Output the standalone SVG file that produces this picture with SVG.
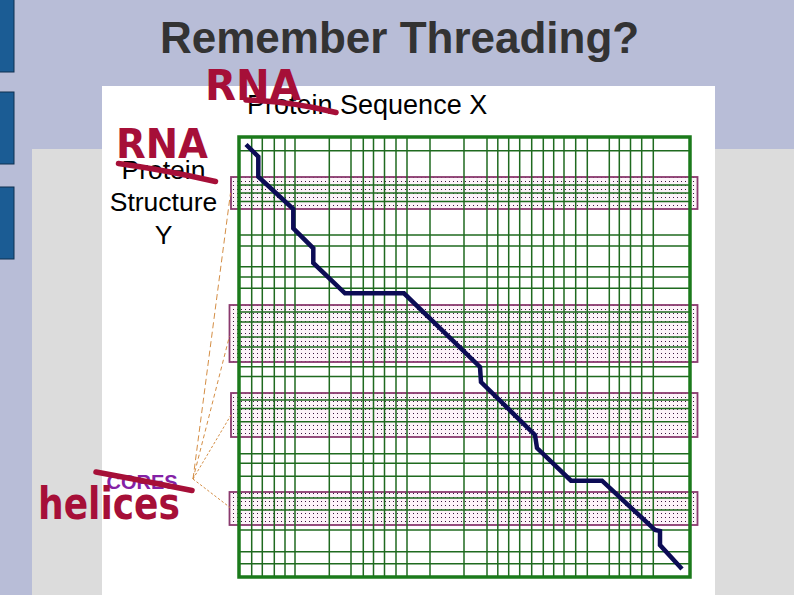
<svg xmlns="http://www.w3.org/2000/svg" width="794" height="595" viewBox="0 0 794 595">
<style>
.bar{fill:#1b5c94;stroke:#0e3050;stroke-width:1}
.grid line{stroke:#1f6a1f;stroke-width:1.5}
.border{fill:none;stroke:#1b7a1b;stroke-width:3.5}
.core{fill:url(#dots);stroke:#8a3a6e;stroke-width:1.8}
.conn{stroke:#d48e45;stroke-width:1;fill:none}
.hand{fill:#a60f38;font-family:"DejaVu Sans",sans-serif;font-weight:bold}
.strike{stroke:#a60f38;stroke-width:5.5;stroke-linecap:round;fill:none}
.lbl{font-family:"Liberation Sans",Arial,sans-serif;fill:#000}
</style>
<defs>
<pattern id="dots" width="4" height="4" patternUnits="userSpaceOnUse">
<rect width="4" height="4" fill="#fdf3f9"/>
<rect x="1" y="1" width="1" height="1" fill="#3a1840"/>
</pattern>
</defs>
<rect width="794" height="595" fill="#b8bdd7"/>
<rect class="bar" x="-1" y="-1" width="15" height="73"/>
<rect class="bar" x="-1" y="92" width="15" height="72"/>
<rect class="bar" x="-1" y="187" width="15" height="72"/>
<rect x="32" y="149" width="762" height="446" fill="#dcdcdc"/>
<rect x="102" y="86" width="613" height="509" fill="#ffffff"/>
<g id="title"><text class="lbl" x="160" y="53" font-size="44" font-weight="bold" style="fill:#333">Remember Threading?</text></g>
<g id="core1"><rect class="core" x="231" y="177" width="466.5" height="32"/></g>
<g id="core2"><rect class="core" x="229.5" y="305" width="468" height="57"/></g>
<g id="core3"><rect class="core" x="231" y="393" width="466.5" height="44"/></g>
<g id="core4"><rect class="core" x="229.5" y="492" width="468" height="33"/></g>
<g id="grid" class="grid">
<line x1="251.7" y1="137" x2="251.7" y2="577"/><line x1="262.3" y1="137" x2="262.3" y2="577"/><line x1="274.3" y1="137" x2="274.3" y2="577"/><line x1="285" y1="137" x2="285" y2="577"/><line x1="295" y1="137" x2="295" y2="577"/><line x1="329.3" y1="137" x2="329.3" y2="577"/><line x1="351" y1="137" x2="351" y2="577"/><line x1="363.3" y1="137" x2="363.3" y2="577"/><line x1="373.5" y1="137" x2="373.5" y2="577"/><line x1="384.5" y1="137" x2="384.5" y2="577"/><line x1="396" y1="137" x2="396" y2="577"/><line x1="407" y1="137" x2="407" y2="577"/><line x1="430" y1="137" x2="430" y2="577"/><line x1="464" y1="137" x2="464" y2="577"/><line x1="487" y1="137" x2="487" y2="577"/><line x1="497.8" y1="137" x2="497.8" y2="577"/><line x1="508.7" y1="137" x2="508.7" y2="577"/><line x1="519.7" y1="137" x2="519.7" y2="577"/><line x1="531.7" y1="137" x2="531.7" y2="577"/><line x1="543.3" y1="137" x2="543.3" y2="577"/><line x1="553.7" y1="137" x2="553.7" y2="577"/><line x1="564" y1="137" x2="564" y2="577"/><line x1="575.7" y1="137" x2="575.7" y2="577"/><line x1="587.3" y1="137" x2="587.3" y2="577"/><line x1="609.3" y1="137" x2="609.3" y2="577"/><line x1="619.3" y1="137" x2="619.3" y2="577"/><line x1="630.5" y1="137" x2="630.5" y2="577"/><line x1="641.7" y1="137" x2="641.7" y2="577"/><line x1="653.3" y1="137" x2="653.3" y2="577"/>
<line x1="239" y1="150.7" x2="690" y2="150.7"/><line x1="239" y1="185" x2="690" y2="185"/><line x1="239" y1="193" x2="690" y2="193"/><line x1="239" y1="201.5" x2="690" y2="201.5"/><line x1="239" y1="235" x2="690" y2="235"/><line x1="239" y1="246" x2="690" y2="246"/><line x1="239" y1="266.7" x2="690" y2="266.7"/><line x1="239" y1="277" x2="690" y2="277"/><line x1="239" y1="288.3" x2="690" y2="288.3"/><line x1="239" y1="312" x2="690" y2="312"/><line x1="239" y1="322" x2="690" y2="322"/><line x1="239" y1="337" x2="690" y2="337"/><line x1="239" y1="347" x2="690" y2="347"/><line x1="239" y1="366.7" x2="690" y2="366.7"/><line x1="239" y1="376.5" x2="690" y2="376.5"/><line x1="239" y1="400" x2="690" y2="400"/><line x1="239" y1="408.5" x2="690" y2="408.5"/><line x1="239" y1="421.7" x2="690" y2="421.7"/><line x1="239" y1="453.7" x2="690" y2="453.7"/><line x1="239" y1="463.3" x2="690" y2="463.3"/><line x1="239" y1="476.3" x2="690" y2="476.3"/><line x1="239" y1="498" x2="690" y2="498"/><line x1="239" y1="510" x2="690" y2="510"/><line x1="239" y1="530" x2="690" y2="530"/><line x1="239" y1="551.7" x2="690" y2="551.7"/><line x1="239" y1="563.7" x2="690" y2="563.7"/>
<rect class="border" x="239" y="137" width="451" height="440"/>
</g>
<g id="connectors">
<line class="conn" x1="193" y1="479" x2="230.5" y2="193" stroke-dasharray="6,3.5"/>
<line class="conn" x1="193" y1="479" x2="229.5" y2="336" stroke-dasharray="4,3"/>
<line class="conn" x1="193" y1="479" x2="231" y2="415" stroke-dasharray="2.5,2"/>
<line class="conn" x1="193" y1="479" x2="230" y2="507.5" stroke-dasharray="2.5,2"/>
</g>
<g id="alignment"><polyline points="246,144.5 258.3,156.7 258.3,176.7 293.3,209 293.3,228.3 313.3,248.3 313.3,263 345,293.3 404,293.3 480,367 481,382 535,435 537,448 571,480.7 602,480.7 655,530 660,531 660,545 682,569" fill="none" stroke="#0c0c55" stroke-width="4.5" stroke-linejoin="miter"/></g>
<g id="seq-label">
<text class="lbl" x="247" y="114" font-size="27">Protein Sequence X</text>
<text class="hand" x="205" y="100" font-size="42" textLength="96" lengthAdjust="spacingAndGlyphs">RNA</text>
<path class="strike" d="M246,100 Q290,101 336,112.5"/>
</g>
<g id="struct-label">
<text class="lbl" x="163.5" y="179" font-size="26.5" text-anchor="middle">Protein</text>
<text class="lbl" x="163.5" y="211" font-size="26.5" text-anchor="middle">Structure</text>
<text class="lbl" x="163.5" y="243.5" font-size="26.5" text-anchor="middle">Y</text>
<text class="hand" x="116" y="158" font-size="40" textLength="92" lengthAdjust="spacingAndGlyphs">RNA</text>
<path class="strike" d="M118.5,163.5 Q165,170 215.5,181.5"/>
</g>
<g id="cores-label">
<text x="106.5" y="488.5" font-size="20" font-weight="bold" fill="#8421a6" font-family="Liberation Sans,Arial,sans-serif">CORES</text>
<text class="hand" x="38" y="518.5" font-size="44" textLength="142" lengthAdjust="spacingAndGlyphs">helices</text>
<path class="strike" d="M96,472 Q145,481 192,490.5"/>
</g>
</svg>
